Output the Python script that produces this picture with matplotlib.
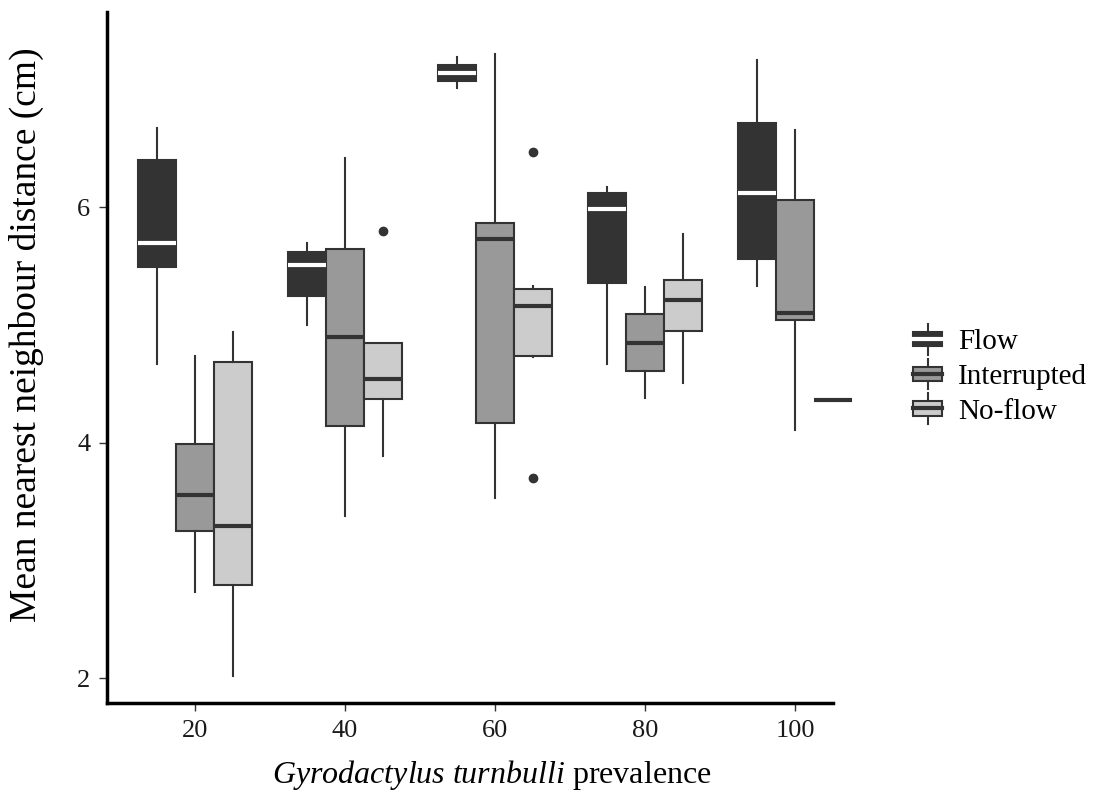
import numpy as np
import matplotlib
matplotlib.use("Agg")
import matplotlib.pyplot as plt
from matplotlib.legend_handler import HandlerBase
from matplotlib.patches import Rectangle, Patch
from matplotlib.lines import Line2D

prevalence = ["20", "40", "60", "80", "100"]
groups = ["Flow", "Interrupted", "No-flow"]
fills = ["#333333", "#999999", "#cccccc"]
median_colors = ["white", "#333333", "#333333"]

# box statistics, one value per prevalence
flow_lo = [4.67, 5.00, 7.01, 4.67, 5.33]
flow_q1 = [5.49, 5.25, 7.07, 5.36, 5.56]
flow_med = [5.70, 5.51, 7.14, 5.99, 6.12]
flow_q3 = [6.40, 5.62, 7.21, 6.12, 6.72]
flow_hi = [6.67, 5.70, 7.28, 6.17, 7.25]
flow_out = [[], [], [], [], []]

int_lo = [2.73, 3.38, 3.53, 4.38, 4.11]
int_q1 = [3.25, 4.14, 4.17, 4.61, 5.04]
int_med = [3.56, 4.90, 5.73, 4.85, 5.10]
int_q3 = [3.99, 5.65, 5.87, 5.09, 6.06]
int_hi = [4.74, 6.42, 7.30, 5.32, 6.66]
int_out = [[], [], [], [], []]

nof_lo = [2.02, 3.89, 4.73, 4.51, 4.36]
nof_q1 = [2.79, 4.37, 4.74, 4.95, 4.36]
nof_med = [3.29, 4.54, 5.16, 5.21, 4.36]
nof_q3 = [4.69, 4.85, 5.31, 5.38, 4.36]
nof_hi = [4.94, 4.85, 5.33, 5.77, 4.36]
nof_out = [[], [5.80], [6.47, 3.70], [], []]

series = [
    (flow_lo, flow_q1, flow_med, flow_q3, flow_hi, flow_out),
    (int_lo, int_q1, int_med, int_q3, int_hi, int_out),
    (nof_lo, nof_q1, nof_med, nof_q3, nof_hi, nof_out),
]

plt.rcParams['font.family'] = ['Liberation Serif', 'DejaVu Serif']
plt.rcParams['mathtext.fontset'] = 'custom'
plt.rcParams['mathtext.rm'] = 'Liberation Serif'
plt.rcParams['mathtext.it'] = 'Liberation Serif:italic'

fig = plt.figure(figsize=(10.96, 7.95), dpi=100)
ax = fig.add_axes([0.0976, 0.1157, 0.6624, 0.8693])

width = 0.253
offsets = [-width, 0, width]
x = np.arange(len(prevalence))

for g in range(3):
    lo, q1, med, q3, hi, out = series[g]
    stats = []
    for i in range(len(prevalence)):
        stats.append({'whislo': lo[i], 'q1': q1[i], 'med': med[i], 'q3': q3[i],
                      'whishi': hi[i], 'fliers': out[i]})
    ax.bxp(stats, positions=x + offsets[g], widths=width, patch_artist=True,
           showcaps=False, manage_ticks=False,
           boxprops=dict(facecolor=fills[g], edgecolor='#333333', linewidth=1.5),
           medianprops=dict(color=median_colors[g], linewidth=3, solid_capstyle='butt'),
           whiskerprops=dict(color='#333333', linewidth=1.5),
           flierprops=dict(marker='o', markerfacecolor='#333333', markeredgecolor='#333333',
                           markersize=6))

for art in ax.get_children():
    art.set_clip_on(False)

ax.set_xlim(-0.587, 4.253)
ax.set_ylim(1.79, 7.66)
ax.set_xticks(x)
ax.set_xticklabels(prevalence)
ax.set_yticks([2, 4, 6])

for side in ['top', 'right']:
    ax.spines[side].set_visible(False)
for side in ['left', 'bottom']:
    ax.spines[side].set_linewidth(2.5)
    ax.spines[side].set_color('black')
ax.tick_params(axis='both', length=6, width=1, color='#333333', labelsize=19,
               labelcolor='#1a1a1a', pad=6)

ax.set_xlabel(r"$\it{Gyrodactylus\ turnbulli}$ prevalence", fontsize=23)
ax.set_ylabel("Mean nearest neighbour distance (cm)", fontsize=27)
ax.xaxis.set_label_coords(0.530, -0.080)
ax.yaxis.set_label_coords(-0.087, 0.533)


class BoxKey(HandlerBase):
    def __init__(self, median_color):
        super().__init__()
        self.median_color = median_color

    def create_artists(self, legend, orig_handle, xdescent, ydescent, width, height,
                       fontsize, trans):
        cx = width / 2 - xdescent
        y0 = -ydescent
        box = Rectangle((-xdescent, y0 + height * 0.15), width, height * 0.7,
                        facecolor=orig_handle.get_facecolor(), edgecolor='#333333',
                        linewidth=1.5, transform=trans)
        top = Line2D([cx, cx], [y0 + height * 0.85, y0 + height * 1.25], color='#333333',
                     linewidth=1.5, transform=trans)
        bot = Line2D([cx, cx], [y0 - height * 0.25, y0 + height * 0.15], color='#333333',
                     linewidth=1.5, transform=trans)
        med = Line2D([-xdescent, -xdescent + width], [y0 + height * 0.5] * 2,
                     color=self.median_color, linewidth=3, transform=trans)
        return [top, bot, box, med]


handles = [Patch(facecolor=fills[g]) for g in range(3)]
handler_map = {handles[g]: BoxKey(median_colors[g]) for g in range(3)}
fig.legend(handles, groups, handler_map=handler_map, loc='center left',
           bbox_to_anchor=(0.833, 0.526), frameon=False, fontsize=21,
           handlelength=1.0, handleheight=0.7, handletextpad=0.55, labelspacing=0.28,
           borderpad=0, borderaxespad=0)

fig.savefig("out.png", dpi=100)
